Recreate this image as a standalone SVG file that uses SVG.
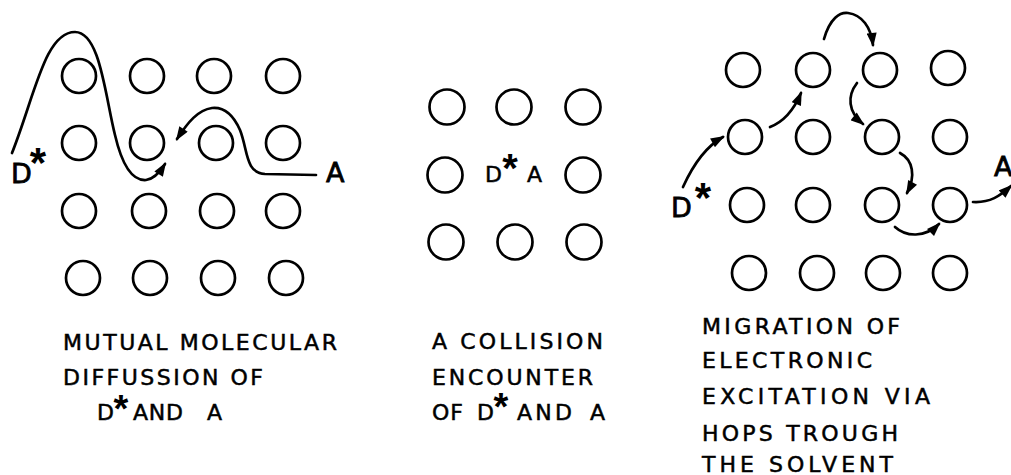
<svg xmlns="http://www.w3.org/2000/svg" width="1011" height="475" viewBox="0 0 1011 475">
<style>
.c{fill:none;stroke:#000;stroke-width:2.7}
.p{fill:none;stroke:#000;stroke-width:2.7;stroke-linecap:round}
.t{font-family:"DejaVu Sans","Liberation Sans",sans-serif;font-size:22px;fill:#000;stroke:#000;stroke-width:0.5}
.big{font-family:"DejaVu Sans","Liberation Sans",sans-serif;font-size:27px;fill:#000;stroke:#000;stroke-width:0.8}
.mid{font-family:"DejaVu Sans","Liberation Sans",sans-serif;font-size:22px;fill:#000;stroke:#000;stroke-width:0.5}
.ast{font-family:"Liberation Sans",Arial,sans-serif;font-weight:bold;fill:#000;text-anchor:middle}
</style>
<defs>
<marker id="ah" viewBox="0 0 14 10" refX="12" refY="5" markerWidth="15" markerHeight="10" orient="auto" markerUnits="userSpaceOnUse">
<path d="M0,0 L14,5 L0,10 z" fill="#000"/>
</marker>
</defs>
<rect width="1011" height="475" fill="#fff"/>

<g id="panel-left">
<g id="left-grid">
<circle class="c" cx="79" cy="76" r="17"/><circle class="c" cx="147" cy="76" r="17"/><circle class="c" cx="214" cy="76" r="17"/><circle class="c" cx="283" cy="76" r="17"/>
<circle class="c" cx="79" cy="143" r="17"/><circle class="c" cx="147" cy="143" r="17"/><circle class="c" cx="216" cy="143" r="17"/><circle class="c" cx="283" cy="143" r="17"/>
<circle class="c" cx="79" cy="211" r="17"/><circle class="c" cx="149" cy="211" r="17"/><circle class="c" cx="217" cy="211" r="17"/><circle class="c" cx="283" cy="211" r="17"/>
<circle class="c" cx="83" cy="278" r="17"/><circle class="c" cx="150" cy="278" r="17"/><circle class="c" cx="218" cy="278" r="17"/><circle class="c" cx="286" cy="278" r="17"/>
</g>
<g id="left-dstar"><text class="big" x="11" y="183">D</text><text class="ast" x="38" y="177" font-size="42">*</text></g>
<g id="left-a"><text class="big" x="326" y="182">A</text></g>
<g id="left-label">
<text class="t" x="63" y="350" textLength="274" lengthAdjust="spacing">MUTUAL MOLECULAR</text>
<text class="t" x="63" y="385" textLength="200" lengthAdjust="spacing">DIFFUSSION OF</text>
<text class="t" x="97" y="420">D</text><text class="ast" x="121" y="422" font-size="38">*</text><text class="t" x="133" y="420" textLength="50" lengthAdjust="spacing">AND</text><text class="t" x="207" y="420">A</text>
</g>
</g>

<g id="panel-middle">
<g id="middle-grid">
<circle class="c" cx="447" cy="107" r="17.5"/><circle class="c" cx="514" cy="107" r="17.5"/><circle class="c" cx="583" cy="107" r="17.5"/>
<circle class="c" cx="445" cy="175" r="17.5"/><circle class="c" cx="583" cy="175" r="17.5"/>
<circle class="c" cx="446" cy="242" r="17.5"/><circle class="c" cx="515" cy="242" r="17.5"/><circle class="c" cx="584" cy="242" r="17.5"/>
</g>
<g id="middle-da"><text class="mid" x="485" y="182">D</text><text class="ast" x="510" y="182" font-size="40">*</text><text class="mid" x="527" y="182">A</text></g>
<g id="middle-label">
<text class="t" x="432" y="349" textLength="171" lengthAdjust="spacing">A COLLISION</text>
<text class="t" x="432" y="385" textLength="161" lengthAdjust="spacing">ENCOUNTER</text>
<text class="t" x="432" y="420" textLength="31" lengthAdjust="spacing">OF</text><text class="t" x="477" y="420">D</text><text class="ast" x="501" y="420" font-size="38">*</text><text class="t" x="517" y="420" textLength="55" lengthAdjust="spacing">AND</text><text class="t" x="590" y="420">A</text>
</g>
</g>

<g id="panel-right">
<g id="right-grid">
<circle class="c" cx="743" cy="70" r="17"/><circle class="c" cx="813" cy="70" r="17"/><circle class="c" cx="880" cy="70" r="17"/><circle class="c" cx="948" cy="68" r="17"/>
<circle class="c" cx="745" cy="137" r="17"/><circle class="c" cx="813" cy="137" r="17"/><circle class="c" cx="882" cy="137" r="17"/><circle class="c" cx="950" cy="137" r="17"/>
<circle class="c" cx="747" cy="205" r="17"/><circle class="c" cx="813" cy="205" r="17"/><circle class="c" cx="882" cy="205" r="17"/><circle class="c" cx="950" cy="205" r="17"/>
<circle class="c" cx="749" cy="273" r="17"/><circle class="c" cx="817" cy="273" r="17"/><circle class="c" cx="883" cy="273" r="17"/><circle class="c" cx="950" cy="273" r="17"/>
</g>
<g id="right-dstar"><text class="big" x="671" y="217">D</text><text class="ast" x="703" y="212" font-size="42">*</text></g>
<g id="right-a"><text class="big" x="994" y="176">A</text></g>
<g id="right-label">
<text class="t" x="702" y="334" textLength="198" lengthAdjust="spacing">MIGRATION OF</text>
<text class="t" x="702" y="368" textLength="170" lengthAdjust="spacing">ELECTRONIC</text>
<text class="t" x="702" y="404" textLength="228" lengthAdjust="spacing">EXCITATION VIA</text>
<text class="t" x="702" y="441" textLength="196" lengthAdjust="spacing">HOPS TROUGH</text>
<text class="t" x="702" y="472" textLength="191" lengthAdjust="spacing">THE SOLVENT</text>
</g>
</g>

<g id="connectors">
<path class="p" marker-end="url(#ah)" d="M12,153 C35,95 45,32 75,32 C100,32 105,95 115,135 C122,165 132,181 146,180 C154,179 160,172 165,164"/>
<path class="p" marker-end="url(#ah)" d="M316,175 L265,174 C245,173 248,150 240,130 C232,112 222,107 212,108 C198,110 188,122 177,139"/>
<path class="p" marker-end="url(#ah)" d="M683,187 C693,165 705,147 723,137"/>
<path class="p" marker-end="url(#ah)" d="M770,127 C783,122 793,112 801,93"/>
<path class="p" marker-end="url(#ah)" d="M824,39 C830,18 840,12 848,13 C862,15 871,27 873,45"/>
<path class="p" marker-end="url(#ah)" d="M857,83 C847,96 848,112 863,124"/>
<path class="p" marker-end="url(#ah)" d="M900,153 C913,160 916,176 907,193"/>
<path class="p" marker-end="url(#ah)" d="M895,227 C906,237 925,238 939,224"/>
<path class="p" marker-end="url(#ah)" d="M973,202 C990,203 1000,196 1011,186"/>
</g>
</svg>
